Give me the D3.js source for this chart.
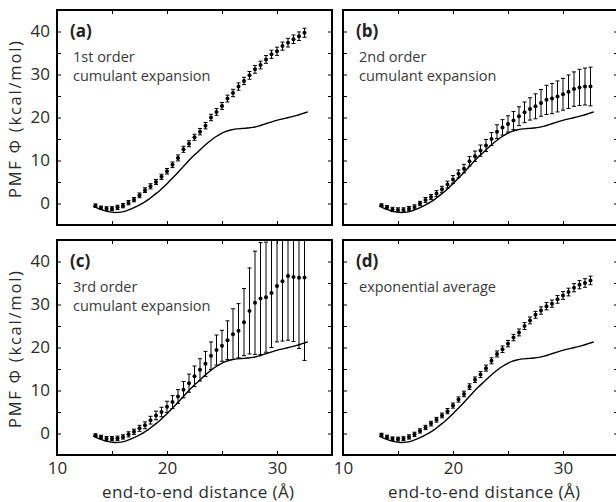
<!DOCTYPE html>
<html>
<head>
<meta charset="utf-8">
<script src="https://cdn.jsdelivr.net/npm/d3@7.9.0/dist/d3.min.js"></script>
<style>
  body { margin: 0; background: #fff; }
  text { font-family: "Open Sans", sans-serif; }
</style>
</head>
<body>
<div id="chart"></div>
<script>
// end-to-end distance grid of the sampled points (Å)
const distance = [13.5, 14, 14.5, 15, 15.5, 16, 16.5, 17, 17.5, 18, 18.5, 19, 19.5,
    20, 20.5, 21, 21.5, 22, 22.5, 23, 23.5, 24, 24.5, 25, 25.5, 26, 26.5,
    27, 27.5, 28, 28.5, 29, 29.5, 30, 30.5, 31, 31.5, 32, 32.5];

// reference PMF (solid line), same in every panel
const refX = [13.3, 13.8, 14.3, 14.8, 15.3, 15.8, 16.3, 16.8, 17.3, 17.8, 18.3, 18.8,
    19.3, 19.8, 20.3, 20.8, 21.3, 21.8, 22.3, 22.8, 23.3, 23.8, 24.3, 24.8, 25.3,
    25.8, 26.3, 26.8, 27.3, 27.8, 28.3, 28.8, 29.3, 29.8, 30.3, 30.8, 31.3, 31.8,
    32.3, 32.8];
const refPMF = [-0.6, -1.2, -1.65, -1.95, -2.1, -2.0, -1.7, -1.2, -0.6, 0.1, 0.9, 1.9,
    2.9, 4.1, 5.4, 6.7, 8.1, 9.5, 10.8, 12.0, 13.2, 14.3, 15.3, 16.1, 16.7,
    17.1, 17.35, 17.45, 17.55, 17.7, 18.0, 18.4, 18.8, 19.2, 19.55, 19.85, 20.15, 20.5,
    20.9, 21.3];

// (a) 1st order cumulant expansion
const pmfFirst = [-0.5, -1.0, -1.2, -1.2, -0.9, -0.5, 0.2, 0.9, 1.9, 3.1, 4.0, 5.0, 6.2,
    7.5, 9.0, 10.6, 12.6, 13.9, 15.4, 16.7, 18.1, 20.0, 21.3, 22.7, 24.4, 25.7, 27.2,
    28.5, 29.8, 31.2, 32.2, 33.5, 34.7, 35.4, 36.6, 37.4, 38.2, 38.9, 39.7];
const errFirst = [0.4, 0.4, 0.45, 0.45, 0.5, 0.5, 0.5, 0.5, 0.55, 0.55, 0.6, 0.6, 0.6,
    0.65, 0.65, 0.7, 0.7, 0.7, 0.7, 0.75, 0.75, 0.75, 0.8, 0.8, 0.8, 0.85, 0.85,
    0.85, 0.9, 0.9, 0.9, 0.9, 0.95, 0.95, 0.95, 1.0, 1.0, 1.0, 1.05];

// (b) 2nd order cumulant expansion
const pmfSecond = [-0.4, -0.9, -1.4, -1.5, -1.5, -1.2, -0.8, 0.0, 0.8, 1.5, 2.3, 3.3, 4.4,
    5.6, 6.9, 8.1, 9.8, 11.0, 12.3, 13.5, 15.0, 16.7, 17.7, 18.5, 19.3, 20.3, 21.2,
    22.0, 22.6, 23.4, 24.1, 24.4, 24.9, 25.4, 26.0, 26.6, 27.0, 27.2, 27.2];
const errSecond = [0.3, 0.4, 0.5, 0.5, 0.5, 0.5, 0.5, 0.5, 0.6, 0.6, 0.7, 0.7, 0.8,
    0.9, 0.9, 1.0, 1.1, 1.2, 1.3, 1.4, 1.5, 1.6, 1.8, 1.9, 2.1, 2.2, 2.4,
    2.6, 2.9, 3.1, 3.4, 3.5, 3.6, 3.7, 3.9, 4.0, 4.2, 4.3, 4.5];

// (c) 3rd order cumulant expansion
const pmfThird = [-0.4, -0.8, -1.2, -1.2, -1.1, -0.8, -0.2, 0.4, 1.2, 1.9, 3.1, 4.2, 5.0,
    6.2, 7.3, 8.6, 10.2, 11.7, 13.3, 14.8, 16.2, 18.1, 19.4, 20.4, 21.7, 23.1, 23.9,
    25.9, 28.5, 30.4, 31.4, 31.7, 32.7, 34.3, 35.4, 36.6, 36.4, 36.2, 36.3];
const errThird = [0.3, 0.4, 0.5, 0.5, 0.5, 0.5, 0.6, 0.6, 0.7, 0.8, 0.9, 1.0, 1.1,
    1.3, 1.5, 1.6, 1.9, 2.1, 2.4, 2.6, 2.9, 3.2, 3.5, 3.6, 4.5, 5.9, 6.3,
    7.8, 10.0, 12.0, 13.0, 12.8, 12.7, 13.0, 13.9, 14.9, 15.0, 16.4, 19.3];

// (d) exponential average
const pmfExp = [-0.3, -0.8, -1.2, -1.3, -1.2, -0.8, -0.2, 0.6, 1.4, 2.3, 3.2, 4.2, 5.2,
    6.5, 7.9, 9.2, 10.9, 12.5, 13.7, 15.2, 16.9, 18.5, 19.6, 20.9, 22.3, 23.5, 25.0,
    26.3, 27.6, 28.6, 29.6, 30.2, 31.2, 32.1, 32.9, 33.9, 34.6, 35.0, 35.6];
const errExp = [0.35, 0.4, 0.4, 0.45, 0.45, 0.5, 0.5, 0.5, 0.5, 0.55, 0.55, 0.55, 0.6,
    0.6, 0.6, 0.65, 0.65, 0.65, 0.7, 0.7, 0.7, 0.7, 0.75, 0.75, 0.75, 0.8, 0.8,
    0.8, 0.8, 0.85, 0.85, 0.85, 0.9, 0.9, 0.9, 0.95, 0.95, 1.0, 1.0];

const xTicks = [10, 15, 20, 25, 30, 35];
const xTickLabels = [10, 20, 30];
const yTicks = [-5, 0, 5, 10, 15, 20, 25, 30, 35, 40, 45];
const yTickLabels = [0, 10, 20, 30, 40];

const panels = [
    { tag: '(a)', lines: ['1st order', 'cumulant expansion'], pmf: pmfFirst, err: errFirst, col: 0, row: 0 },
    { tag: '(b)', lines: ['2nd order', 'cumulant expansion'], pmf: pmfSecond, err: errSecond, col: 1, row: 0 },
    { tag: '(c)', lines: ['3rd order', 'cumulant expansion'], pmf: pmfThird, err: errThird, col: 0, row: 1 },
    { tag: '(d)', lines: ['exponential average'], pmf: pmfExp, err: errExp, col: 1, row: 1 }
];

const lefts = [57, 343];
const tops = [10, 240];
const panelW = 275;
const panelH = 215;

const svg = d3.select('#chart')
    .append('svg')
    .attr('width', 616)
    .attr('height', 502);

const textColor = '#2b2b2b';

panels.forEach((p, i) => {
    const left = lefts[p.col];
    const top = tops[p.row];

    const x = d3.scaleLinear().domain([10, 35]).range([left, left + panelW]);
    const y = d3.scaleLinear().domain([-5, 45]).range([top + panelH, top]);

    const g = svg.append('g');

    g.append('clipPath')
        .attr('id', 'clip' + i)
        .append('rect')
        .attr('x', left)
        .attr('y', top)
        .attr('width', panelW)
        .attr('height', panelH);

    // ticks on all four sides, pointing inward
    const bottomAxis = d3.axisBottom(x).tickValues(xTicks).tickSize(-4).tickPadding(7)
        .tickFormat(d => (p.row === 1 && xTickLabels.includes(d)) ? d : '');
    const topAxis = d3.axisTop(x).tickValues(xTicks).tickSize(-4).tickFormat('');
    const leftAxis = d3.axisLeft(y).tickValues(yTicks).tickSize(-4).tickPadding(7)
        .tickFormat(d => (p.col === 0 && yTickLabels.includes(d)) ? d : '');
    const rightAxis = d3.axisRight(y).tickValues(yTicks).tickSize(-4).tickFormat('');

    [[bottomAxis, `translate(0,${top + panelH})`], [topAxis, `translate(0,${top})`],
     [leftAxis, `translate(${left},0)`], [rightAxis, `translate(${left + panelW},0)`]]
        .forEach(([axis, tr]) => {
            const a = g.append('g').attr('transform', tr).call(axis);
            a.select('.domain').remove();
            a.selectAll('line').attr('stroke', '#000').attr('stroke-width', 1);
            a.selectAll('text')
                .attr('font-size', 17)
                .attr('font-family', '"Open Sans", sans-serif')
                .attr('fill', textColor);
        });

    const plot = g.append('g').attr('clip-path', `url(#clip${i})`);

    // reference curve
    const line = d3.line()
        .x((d, k) => x(refX[k]))
        .y(d => y(d))
        .curve(d3.curveMonotoneX);

    plot.append('path')
        .attr('d', line(refPMF))
        .attr('fill', 'none')
        .attr('stroke', '#000')
        .attr('stroke-width', 1.4);

    // error bars
    const bars = plot.selectAll('.bar')
        .data(p.pmf.map((v, k) => ({ x: distance[k], v: v, e: p.err[k] })))
        .enter()
        .append('g')
        .attr('class', 'bar');

    bars.append('line')
        .attr('x1', d => x(d.x)).attr('x2', d => x(d.x))
        .attr('y1', d => y(d.v - d.e)).attr('y2', d => y(d.v + d.e))
        .attr('stroke', '#000').attr('stroke-width', 1);

    [-1, 1].forEach(s => {
        bars.append('line')
            .attr('x1', d => x(d.x) - 2).attr('x2', d => x(d.x) + 2)
            .attr('y1', d => y(d.v + s * d.e)).attr('y2', d => y(d.v + s * d.e))
            .attr('stroke', '#000').attr('stroke-width', 1);
    });

    bars.append('circle')
        .attr('cx', d => x(d.x))
        .attr('cy', d => y(d.v))
        .attr('r', 2)
        .attr('fill', '#000');

    // frame
    g.append('rect')
        .attr('x', left)
        .attr('y', top)
        .attr('width', panelW)
        .attr('height', panelH)
        .attr('fill', 'none')
        .attr('stroke', '#000')
        .attr('stroke-width', 2);

    // panel tag and description
    g.append('text')
        .attr('x', left + 13)
        .attr('y', top + 27)
        .attr('font-size', 17)
        .attr('font-weight', 'bold')
        .attr('fill', '#222')
        .text(p.tag);

    p.lines.forEach((t, k) => {
        g.append('text')
            .attr('x', left + 16)
            .attr('y', top + 52 + k * 19)
            .attr('font-size', 14.5)
            .attr('fill', '#3a3a3a')
            .text(t);
    });

    // axis titles
    if (p.col === 0) {
        g.append('text')
            .attr('transform', `translate(21,${top + panelH / 2 + 2}) rotate(-90)`)
            .attr('text-anchor', 'middle')
            .attr('font-size', 16.5)
            .attr('fill', textColor)
            .attr('textLength', 157)
            .attr('lengthAdjust', 'spacing')
            .text('PMF  Φ  (kcal/mol)');
    }
    if (p.row === 1) {
        g.append('text')
            .attr('x', left + 141)
            .attr('y', 498)
            .attr('text-anchor', 'middle')
            .attr('font-size', 17)
            .attr('fill', textColor)
            .attr('textLength', 192)
            .attr('lengthAdjust', 'spacing')
            .text('end-to-end  distance  (Å)');
    }
});
</script>
</body>
</html>
